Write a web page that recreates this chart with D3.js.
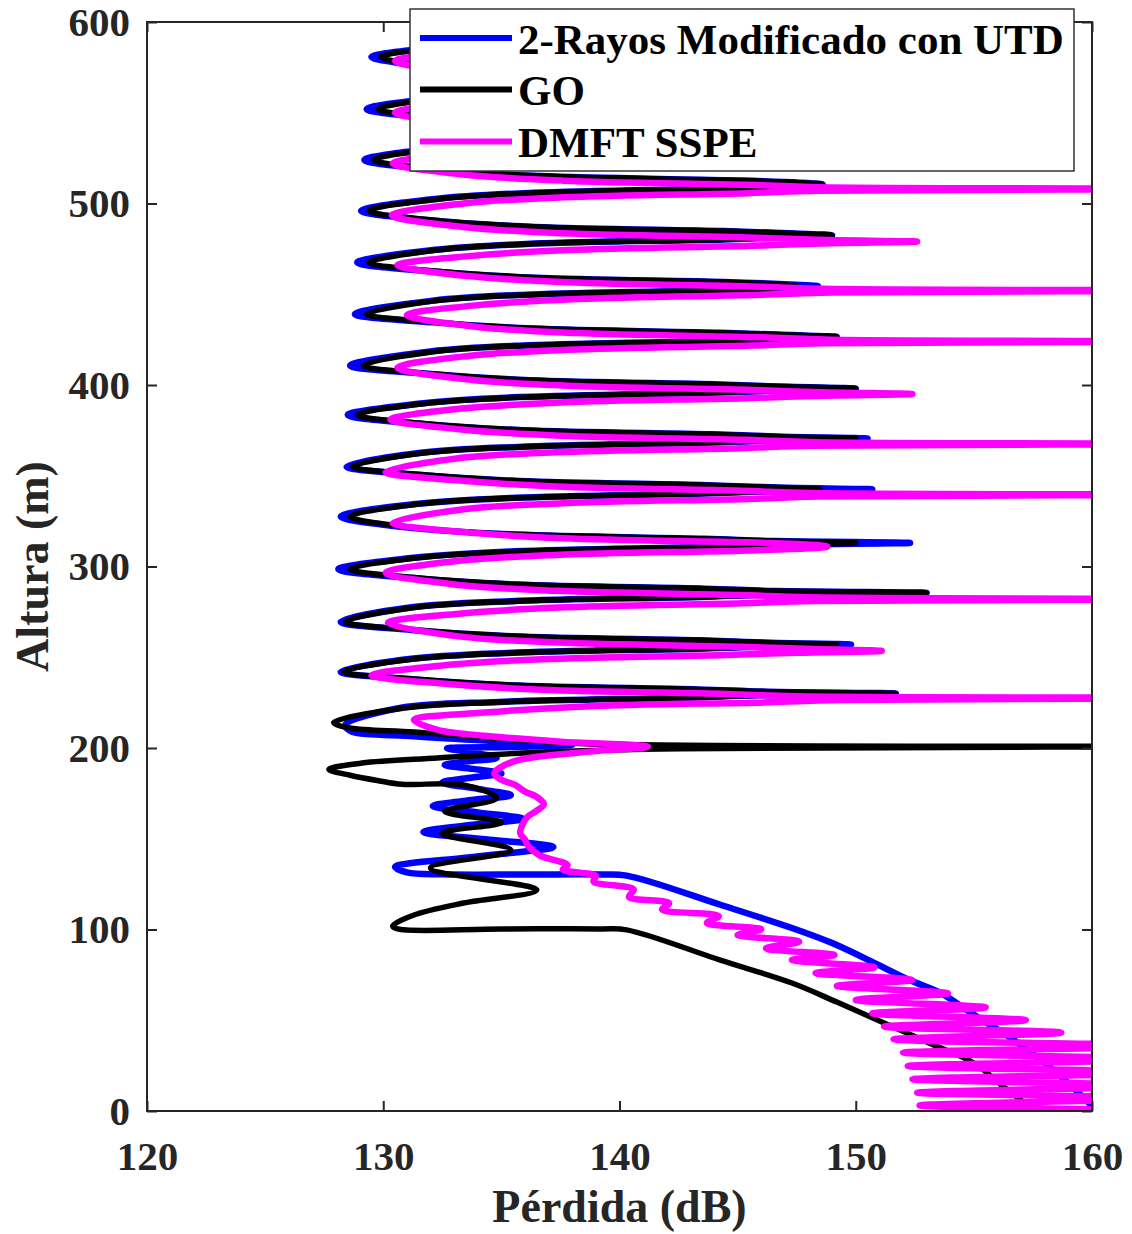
<!DOCTYPE html>
<html>
<head>
<meta charset="utf-8">
<script src="https://cdn.jsdelivr.net/npm/d3@7"></script>
<style>
  body { margin: 0; background: #fff; }
  text { font-family: "Liberation Serif", "Times New Roman", serif; font-weight: bold; fill: #262626; }
</style>
</head>
<body>
<div id="chart"></div>
<script>
// [loss dB, height m], top to bottom
var seriesNames = ["2-Rayos Modificado con UTD", "GO", "DMFT SSPE"];
var seriesColors = ["#0000ff", "#000000", "#ff00ff"];
var seriesWidths = [6.5, 5.5, 6.5];

var xTicks = [120, 130, 140, 150, 160];
var yTicks = [0, 100, 200, 300, 400, 500, 600];

var rayos = [
  [135.8,600],[137.0,599.1],[145.0,596.8],[148.0,595.5],[149.0,594.5],[147.9,593.5],[144.9,592.2],[136.9,589.9],[132.7,586.5],[129.5,580.7],
  [132.7,574.5],[136.9,571.1],[144.9,568.8],[147.9,567.5],[149.0,566.5],[147.8,565.5],[144.8,564.2],[136.8,561.9],[132.6,558.5],[129.3,552.0],
  [132.6,546.5],[136.8,543.1],[144.8,540.8],[147.8,539.5],[149.0,538.5],[147.6,537.5],[144.6,536.2],[136.6,533.9],[132.4,530.5],[129.2,524.0],
  [132.4,518.5],[136.6,515.1],[144.6,512.8],[147.6,511.5],[148.6,510.5],[147.4,509.5],[144.4,508.2],[136.4,505.9],[132.2,502.5],[129.06,496.0],
  [132.2,490.5],[136.4,487.1],[144.4,484.8],[147.4,483.5],[149.0,482.5],[147.4,481.5],[144.4,480.2],[136.4,477.9],[132.2,474.5],[128.9,467.5],
  [132.2,462.5],[136.4,459.1],[144.4,456.8],[147.0,455.5],[148.4,454.5],[146.9,453.5],[144.3,452.2],[136.3,449.9],[132.1,446.5],[128.8,439.0],
  [132.1,434.5],[136.3,431.1],[144.3,428.8],[147.3,427.5],[149.2,426.5],[147.2,425.5],[144.2,424.2],[136.2,421.9],[132.0,418.5],[128.6,410.7],
  [132.0,406.0],[136.2,402.6],[144.2,400.3],[147.2,399.0],[150.0,398.0],[146.9,397.0],[143.9,395.7],[135.9,393.4],[131.7,390.0],[128.5,383.5],
  [131.7,378.5],[135.9,375.1],[143.9,372.8],[146.9,371.5],[150.5,370.5],[146.7,369.5],[143.7,368.2],[135.7,365.9],[131.5,362.5],[128.45,355.0],
  [131.5,350.5],[135.7,347.1],[143.7,344.8],[146.7,343.5],[150.7,342.5],[146.6,341.5],[143.6,340.2],[135.6,337.9],[131.4,334.5],[128.2,327.5],
  [131.4,321.0],[135.6,317.6],[143.6,315.3],[146.6,314.0],[152.3,313.0],[146.6,312.0],[143.6,310.7],[135.6,308.4],[131.4,305.0],[128.1,298.5],
  [131.4,293.5],[135.6,290.1],[143.6,287.8],[146.6,286.5],[153.0,285.5],[146.4,284.5],[143.4,283.2],[135.4,280.9],[131.2,277.5],[128.2,269.5],
  [131.2,265.0],[135.4,261.6],[143.4,259.3],[146.4,258.0],[149.8,257.0],[146.3,256.0],[143.3,254.7],[135.3,252.4],[131.1,249.0],[128.2,242.0],
  [131.1,238.0],[135.3,234.6],[143.3,232.3],[146.3,231.0],[151.7,230.0],[145.9,229.0],[142.9,227.7],[134.9,225.4],[130.7,222.0],[128.4,212.7],
  [128.6,209.5],[131.3,206.5],[134.5,204.0],[138.0,201.8],[135.5,200.6],[132.7,199.8],[133.8,197.5],[134.8,194.5],[133.5,192.5],[132.6,190.6],
  [133.8,188.5],[135.0,186.0],[133.6,183.5],[132.5,181.0],[134.0,177.5],[135.4,174.0],[133.5,171.0],[132.1,168.0],[134.0,164.5],[135.9,161.0],
  [133.6,157.5],[131.7,153.7],[134.5,149.5],[137.2,145.5],[133.8,140.0],[130.5,134.5],[131.0,131.5],[132.5,130.4],[136.0,130.3],[139.2,130.3],
  [140.3,129.7],[144.3,113.5],[147.3,100.8],[149.0,92.5],[150.8,81.5],[152.3,72.0],[153.6,65.0],[155.0,53.0],[156.5,40.8],[158.0,26.4],
  [159.3,11.6],[160.2,0]
];

var go = [
  [136.0,600],[137.2,599.1],[145.0,596.8],[148.0,595.5],[149.0,594.5],[147.9,593.5],[144.9,592.2],[137.1,589.9],[132.9,586.5],[129.9,580.7],
  [132.9,574.5],[137.1,571.1],[144.9,568.8],[147.9,567.5],[149.0,566.5],[147.8,565.5],[144.8,564.2],[137.0,561.9],[132.8,558.5],[129.8,552.0],
  [132.8,546.5],[137.0,543.1],[144.8,540.8],[147.8,539.5],[149.0,538.5],[147.6,537.5],[144.6,536.2],[136.8,533.9],[132.6,530.5],[129.6,524.0],
  [132.6,518.5],[136.8,515.1],[144.6,512.8],[147.6,511.5],[148.6,510.5],[147.4,509.5],[144.4,508.2],[136.6,505.9],[132.4,502.5],[129.4,496.0],
  [132.4,490.5],[136.6,487.1],[144.4,484.8],[147.4,483.5],[149.0,482.5],[147.4,481.5],[144.4,480.2],[136.6,477.9],[132.4,474.5],[129.4,467.5],
  [132.4,462.5],[136.6,459.1],[144.4,456.8],[146.7,455.5],[147.5,454.5],[146.6,453.5],[144.3,452.2],[136.5,449.9],[132.3,446.5],[129.3,439.0],
  [132.3,434.5],[136.5,431.1],[144.3,428.8],[147.3,427.5],[149.2,426.5],[147.2,425.5],[144.2,424.2],[136.4,421.9],[132.2,418.5],[129.15,410.7],
  [132.2,406.0],[136.4,402.6],[144.2,400.3],[147.2,399.0],[150.0,398.0],[146.9,397.0],[143.9,395.7],[136.1,393.4],[131.9,390.0],[128.9,383.5],
  [131.9,378.5],[136.1,375.1],[143.9,372.8],[146.9,371.5],[150.0,370.5],[146.7,369.5],[143.7,368.2],[135.9,365.9],[131.7,362.5],[128.7,355.0],
  [131.7,350.5],[135.9,347.1],[143.7,344.8],[146.7,343.5],[148.5,342.5],[146.6,341.5],[143.6,340.2],[135.8,337.9],[131.6,334.5],[128.6,327.5],
  [131.6,321.0],[135.8,317.6],[143.6,315.3],[146.6,314.0],[150.0,313.0],[146.6,312.0],[143.6,310.7],[135.8,308.4],[131.6,305.0],[128.6,298.5],
  [131.6,293.5],[135.8,290.1],[143.6,287.8],[146.6,286.5],[153.0,285.5],[146.4,284.5],[143.4,283.2],[135.6,280.9],[131.4,277.5],[128.4,269.5],
  [131.4,265.0],[135.6,261.6],[143.4,259.3],[146.4,258.0],[149.2,257.0],[146.3,256.0],[143.3,254.7],[135.5,252.4],[131.3,249.0],[128.3,242.0],
  [131.3,238.0],[135.5,234.6],[143.3,232.3],[146.3,231.0],[151.7,230.0],[145.9,229.0],[142.9,227.7],[135.1,225.4],[130.9,222.0],[127.9,214.0],
  [128.6,211.0],[131.3,208.8],[135.0,205.0],[138.5,202.3],[175,201.0],[142.6,199.6],[136.9,197.8],[132.3,194.5],[129.1,191.7],
  [127.7,188.2],[128.6,185.0],[129.8,182.0],[130.8,180.0],[133.4,179.6],[134.8,172.4],[132.6,165.0],[135.0,159.0],[132.5,153.0],[135.4,143.8],
  [132.0,133.9],[136.5,121.8],[133.4,114.6],[131.3,108.0],[130.4,102.0],[130.6,100.3],[135.0,100.3],[139.2,100.3],[140.3,99.8],[144.3,83.0],
  [147.3,70.5],[149.2,60.0],[151.2,48.5],[153.1,37.5],[155.0,26.4],[156.2,14.0],[157.3,2.3],[157.4,0]
];

var sspe = [
  [134.0,600],[137.7,596.6],[145.5,594.3],[148.5,593],[150,592],[148.5,591],[145.5,589.7],[137.7,587.4],[133.5,584],[130.5,578.5],
  [133.5,572],[137.7,568.6],[145.5,566.3],[148.5,565],[150,564],[148.5,563],[145.5,561.7],[137.7,559.4],[133.5,556],[130.5,550],
  [133.5,544],[137.7,540.6],[145.5,538.3],[148.5,537],[150,536],[148.4,535],[145.4,533.7],[137.6,531.4],[133.4,528],[130.4,522],
  [133.4,516],[137.6,512.6],[145.4,510.3],[148.4,509],[170,508],[148.4,507],[145.4,505.7],[137.6,503.4],[133.4,500],[130.36,493.5],
  [133.4,487],[137.6,483.6],[145.4,481.3],[148.4,480],[152.6,479],[148.6,478],[145.6,476.7],[137.8,474.4],[133.6,471],[130.6,466],
  [133.6,460],[137.8,456.6],[145.6,454.3],[148.6,453],[170,452],[149.0,451],[146.0,449.7],[138.2,447.4],[134.0,444],[131.0,438.5],
  [134.0,432],[138.2,428.6],[146.0,426.3],[149.0,425],[170,424],[148.6,423],[145.6,421.7],[137.8,419.4],[133.6,416],[130.6,409.5],
  [133.6,403],[137.8,399.6],[145.6,397.3],[148.6,396],[152.4,395],[148.3,394],[145.3,392.7],[137.5,390.4],[133.3,387],[130.3,381],
  [133.3,375.5],[137.5,372.1],[145.3,369.8],[148.3,368.5],[170,367.5],[148.1,366.5],[145.1,365.2],[137.3,362.9],[133.1,359.5],[130.1,352],
  [133.1,347.5],[137.3,344.1],[145.1,341.8],[148.1,340.5],[170,339.5],[148.4,338.5],[145.4,337.2],[137.6,334.9],[133.4,331.5],[130.4,324],
  [133.4,319],[137.6,315.6],[145.4,313.3],[148.2,312],[148.8,311],[148.0,310],[145.1,308.7],[137.3,306.4],[133.1,303],[130.1,296.5],
  [133.1,290],[137.3,286.6],[145.1,284.3],[148.1,283],[170,282],[148.2,281],[145.2,279.7],[137.4,277.4],[133.2,274],[130.2,269],
  [133.2,261.5],[137.4,258.1],[145.2,255.8],[148.2,254.5],[151.1,253.5],[147.5,252.5],[144.5,251.2],[136.7,248.9],[132.5,245.5],[129.5,240],
  [132.5,235.5],[136.7,232.1],[144.5,229.8],[147.5,228.5],[170,227.5],[149.3,226.5],[146.3,225.2],[138.5,222.9],[134.3,219.5],[131.3,215.5],
  [132.3,210.0],[134.5,206.5],[137.5,203.5],[141.2,200.8],[138.3,197.5],[135.5,192.5],[134.7,186.0],[135.0,182.5],[135.6,179.5],[136.0,176.0],
  [136.5,173.0],[136.8,169.0],[136.5,165.5],[136.1,162.0],[135.9,158.0],[135.8,153.0],[136.0,149.5],[136.1,146.6],[136.6,141.0],[137.8,135.5],
  [137.6,133.0],[139.0,129.5],[138.9,126.5],[140.6,122.0],[140.4,118.0],[142.1,114.5],[141.8,111.0],[144.2,107.4],[143.7,103.6],[146.0,100.1],
  [145.0,97.0],[147.6,93.3],[146.2,89.6],[149.1,86.0],[147.3,83.2],[150.8,79.2],[148.3,76.0],[152.4,72.2],[149.2,68.9],[153.9,64.8],
  [150.0,61.2],[155.5,57.1],[150.7,53.8],[157.2,50.1],[151.2,46.5],[158.7,43.2],[151.6,39.5],[163,35.8],[152.0,32.2],[163,28.5],
  [152.2,24.8],[163,21.1],[152.4,17.5],[163,13.9],[152.6,10.1],[163,7.0],[152.7,3.1],[163,0.5]
];

var svgWidth = 1132;
var svgHeight = 1234;
var margin = { top: 22, right: 40, bottom: 123, left: 147 };
var width = svgWidth - margin.left - margin.right;
var height = svgHeight - margin.top - margin.bottom;

var svg = d3.select("#chart").append("svg")
  .attr("width", svgWidth)
  .attr("height", svgHeight);

var chartGroup = svg.append("g")
  .attr("transform", `translate(${margin.left}, ${margin.top})`);

var xScale = d3.scaleLinear().domain([120, 160]).range([0, width]);
var yScale = d3.scaleLinear().domain([0, 600]).range([height, 0]);

chartGroup.append("clipPath").attr("id", "plotclip")
  .append("rect").attr("width", width).attr("height", height);

var line = d3.line()
  .x(d => xScale(d[0]))
  .y(d => yScale(d[1]))
  .curve(d3.curveCatmullRom.alpha(0.5));

var allSeries = [rayos, go, sspe];
chartGroup.append("g").attr("clip-path", "url(#plotclip)")
  .selectAll("path")
  .data(allSeries)
  .enter()
  .append("path")
    .attr("d", d => line(d))
    .attr("fill", "none")
    .attr("stroke", (d, i) => seriesColors[i])
    .attr("stroke-width", (d, i) => seriesWidths[i])
    .attr("stroke-linejoin", "round")
    .attr("stroke-linecap", "round");

// axes, ticks inside
function styleAxis(g) {
  g.select(".domain").remove();
  g.selectAll(".tick line").attr("stroke", "#262626").attr("stroke-width", 2);
  g.selectAll(".tick text").attr("font-size", 41).attr("fill", "#262626")
    .style("font-family", "'Liberation Serif', 'Times New Roman', serif").style("font-weight", "bold");
}

chartGroup.append("g")
  .attr("transform", `translate(0, ${height})`)
  .call(d3.axisBottom(xScale).tickValues(xTicks).tickSize(-10).tickSizeOuter(0).tickPadding(30))
  .call(styleAxis);

chartGroup.append("g")
  .call(d3.axisTop(xScale).tickValues(xTicks).tickSize(-10).tickSizeOuter(0).tickFormat(""))
  .call(styleAxis);

chartGroup.append("g")
  .call(d3.axisLeft(yScale).tickValues(yTicks).tickSize(-10).tickSizeOuter(0).tickPadding(17))
  .call(styleAxis);

chartGroup.append("g")
  .attr("transform", `translate(${width}, 0)`)
  .call(d3.axisRight(yScale).tickValues(yTicks).tickSize(-10).tickSizeOuter(0).tickFormat(""))
  .call(styleAxis);

chartGroup.append("rect")
  .attr("width", width).attr("height", height)
  .attr("fill", "none").attr("stroke", "#262626").attr("stroke-width", 2);

// axis titles
svg.append("text")
  .attr("x", margin.left + width / 2)
  .attr("y", 1222)
  .attr("text-anchor", "middle")
  .attr("font-size", 46)
  .text("Pérdida (dB)");

svg.append("text")
  .attr("transform", `translate(48, ${margin.top + height / 2}) rotate(-90)`)
  .attr("text-anchor", "middle")
  .attr("font-size", 46)
  .text("Altura (m)");

// legend
var legend = svg.append("g");
legend.append("rect")
  .attr("x", 410).attr("y", 9)
  .attr("width", 664).attr("height", 162)
  .attr("fill", "#fff").attr("stroke", "#333").attr("stroke-width", 1.5);

var rowY = [38, 89.5, 141.5];
seriesNames.forEach(function(name, i) {
  legend.append("line")
    .attr("x1", 420).attr("x2", 512)
    .attr("y1", rowY[i]).attr("y2", rowY[i])
    .attr("stroke", seriesColors[i]).attr("stroke-width", 6);
  legend.append("text")
    .attr("x", 518).attr("y", rowY[i] + 15.5)
    .attr("font-size", 43)
    .style("fill", "#000")
    .text(name);
});
</script>
</body>
</html>
